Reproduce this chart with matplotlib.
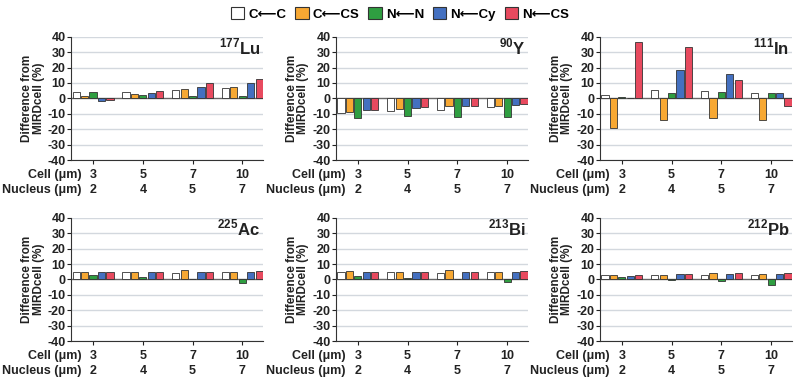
import numpy as np
import matplotlib.pyplot as plt
from matplotlib.patches import Patch

# data
cell_sizes = ['3', '5', '7', '10']
nucleus_sizes = ['2', '4', '5', '7']
series = ['C\u27f5C', 'C\u27f5CS', 'N\u27f5N', 'N\u27f5Cy', 'N\u27f5CS']
colors = ['#ffffff', '#f7a833', '#2f9e41', '#4470c0', '#e84a5f']

nuclides = [('177', 'Lu'), ('90', 'Y'), ('111', 'In'),
            ('225', 'Ac'), ('213', 'Bi'), ('212', 'Pb')]

# rows: series, cols: cell sizes
lu177 = [[4.3, 4.3, 5.2, 6.7],
         [1.3, 3.0, 6.2, 7.3],
         [4.3, 2.4, 1.7, 1.3],
         [-2.0, 3.7, 7.1, 9.7],
         [-1.0, 5.0, 9.9, 12.3]]
y90 = [[-9.7, -8.0, -7.3, -5.4],
       [-9.0, -6.7, -5.0, -5.2],
       [-12.7, -11.4, -11.8, -12.0],
       [-7.3, -6.5, -5.2, -4.3],
       [-7.3, -5.8, -5.2, -3.4]]
in111 = [[2.4, 5.6, 4.7, 3.6],
         [-19.0, -14.0, -12.6, -14.0],
         [0.9, 3.6, 4.3, 3.6],
         [0.5, 18.4, 15.8, 3.2],
         [36.6, 33.2, 11.6, -5.1]]
ac225 = [[5.0, 5.0, 4.3, 5.0],
         [5.0, 5.0, 6.1, 5.0],
         [2.8, 1.3, 0.4, -2.0],
         [5.0, 5.0, 5.0, 5.0],
         [5.0, 5.0, 5.0, 5.4]]
bi213 = [[4.75, 4.75, 4.1, 4.75],
         [5.2, 5.0, 5.8, 5.0],
         [2.4, 1.1, 0.4, -1.7],
         [4.5, 4.75, 4.75, 4.75],
         [5.0, 5.0, 5.0, 5.4]]
pb212 = [[3.0, 2.8, 2.6, 2.8],
         [2.6, 2.8, 4.3, 3.2],
         [1.5, -0.6, -1.3, -3.9],
         [2.2, 3.2, 3.2, 3.2],
         [2.6, 3.7, 4.1, 4.3]]
all_data = [lu177, y90, in111, ac225, bi213, pb212]

plt.rcParams['font.family'] = ['Liberation Sans', 'DejaVu Sans']
plt.rcParams['font.weight'] = 'bold'
plt.rcParams['axes.unicode_minus'] = False
plt.rcParams['mathtext.fontset'] = 'custom'
plt.rcParams['mathtext.rm'] = 'Liberation Sans:bold'
plt.rcParams['mathtext.bf'] = 'Liberation Sans:bold'
text_color = '#222222'

fig = plt.figure(figsize=(8, 3.82), dpi=100)

lefts = [0.089, 0.42, 0.75]
bottoms = [0.581, 0.107]
w, h = 0.24, 0.323

x = np.arange(len(cell_sizes))
bar_w = 0.145
step = 0.17

for k, (data, (mass, sym)) in enumerate(zip(all_data, nuclides)):
    ax = fig.add_axes([lefts[k % 3], bottoms[k // 3], w, h])
    for yv in range(-40, 41, 10):
        if yv != 0:
            ax.axhline(yv, color='#d3d8de', lw=1.0, zorder=0)
    ax.axhline(0, color='#666666', lw=1.0, zorder=1)
    for i, vals in enumerate(data):
        ax.bar(x + (i - 2) * step, vals, bar_w, color=colors[i],
               edgecolor='#333333', linewidth=0.6, zorder=2)
    ax.set_xlim(-0.44, 3.42)
    ax.set_ylim(-40, 40)
    ax.set_yticks(range(-40, 41, 10))
    ax.set_xticks(x)
    ax.set_xticklabels([])
    ax.tick_params(axis='y', labelsize=9, length=3, width=0.8, pad=1,
                   colors=text_color)
    ax.tick_params(axis='x', length=3, width=0.8, colors=text_color)
    for lab in ax.get_yticklabels():
        lab.set_fontweight('bold')
    ax.spines['top'].set_visible(False)
    ax.spines['right'].set_visible(False)
    ax.spines['left'].set_color('#333333')
    ax.spines['bottom'].set_color('#333333')
    ax.set_ylabel('Difference from\nMIRDcell (%)', fontsize=8.5,
                  fontweight='bold', color=text_color, labelpad=2,
                  linespacing=0.95)
    ax.text(0.985, 33, r'$^{%s}$' % mass + sym,
            transform=ax.get_yaxis_transform(), ha='right', va='center',
            fontsize=12, fontweight='bold', color=text_color)
    # two-row category labels
    tr = ax.get_xaxis_transform()
    ax.text(-0.24, -0.12, 'Cell (\u03bcm)', transform=tr, ha='right',
            va='center', fontsize=9, fontweight='bold', color=text_color)
    ax.text(-0.24, -0.24, 'Nucleus (\u03bcm)', transform=tr, ha='right',
            va='center', fontsize=9, fontweight='bold', color=text_color)
    for xi, c, n in zip(x, cell_sizes, nucleus_sizes):
        ax.text(xi, -0.12, c, transform=tr, ha='center', va='center',
                fontsize=9, fontweight='bold', color=text_color)
        ax.text(xi, -0.24, n, transform=tr, ha='center', va='center',
                fontsize=9, fontweight='bold', color=text_color)

handles = [Patch(facecolor=c, edgecolor='#333333', linewidth=0.8)
           for c in colors]
fig.legend(handles, series, loc='center', bbox_to_anchor=(0.5, 0.963),
           ncol=5, frameon=False, handlelength=1.0,
           handleheight=1.0, handletextpad=0.3, columnspacing=0.7,
           prop={'family': ['Liberation Sans', 'DejaVu Sans'],
                 'weight': 'bold', 'size': 9.5})

fig.savefig('out.png', dpi=100)
